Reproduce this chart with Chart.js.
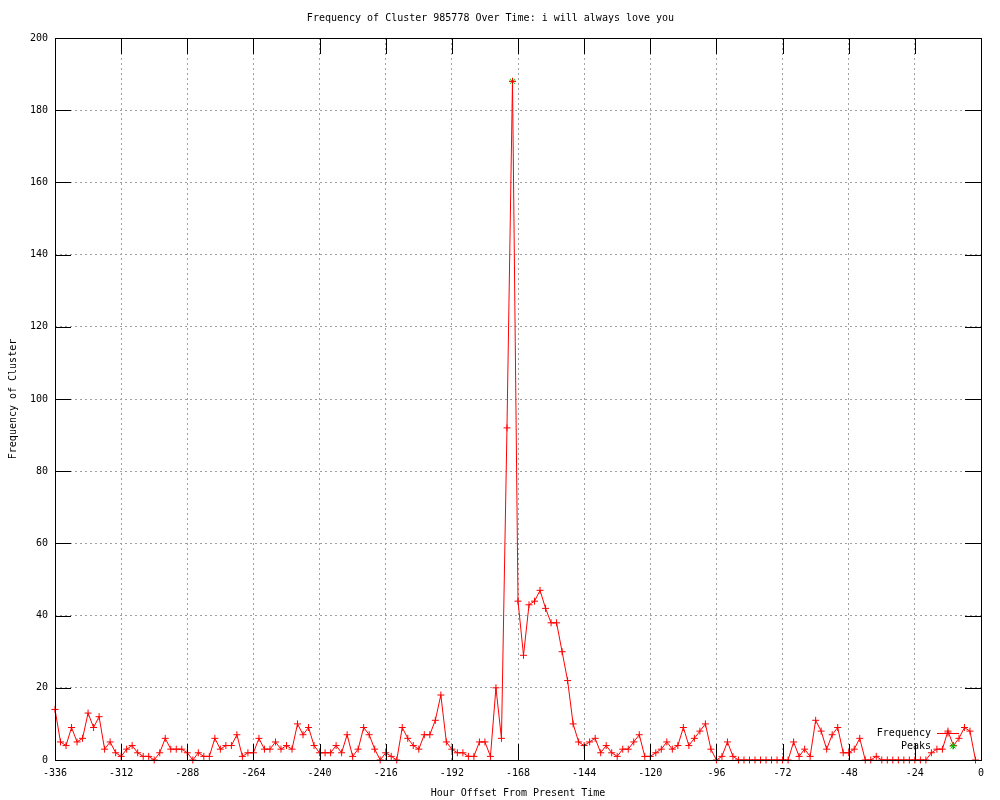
<!DOCTYPE html>
<html>
<head>
<meta charset="utf-8">
<title>Frequency of Cluster 985778</title>
<script src="https://cdn.jsdelivr.net/npm/chart.js@4.4.1/dist/chart.umd.min.js"></script>
<style>
  html, body { margin: 0; padding: 0; background: #fff; }
  #wrap { width: 1000px; height: 800px; }
</style>
</head>
<body>
<div id="wrap"><canvas id="freqChart" width="1000" height="800"></canvas></div>
<script>
// hour offsets, one point every 2 hours
const hours = [
  -336, -334, -332, -330, -328, -326, -324, -322, -320, -318,
  -316, -314, -312, -310, -308, -306, -304, -302, -300, -298,
  -296, -294, -292, -290, -288, -286, -284, -282, -280, -278,
  -276, -274, -272, -270, -268, -266, -264, -262, -260, -258,
  -256, -254, -252, -250, -248, -246, -244, -242, -240, -238,
  -236, -234, -232, -230, -228, -226, -224, -222, -220, -218,
  -216, -214, -212, -210, -208, -206, -204, -202, -200, -198,
  -196, -194, -192, -190, -188, -186, -184, -182, -180, -178,
  -176, -174, -172, -170, -168, -166, -164, -162, -160, -158,
  -156, -154, -152, -150, -148, -146, -144, -142, -140, -138,
  -136, -134, -132, -130, -128, -126, -124, -122, -120, -118,
  -116, -114, -112, -110, -108, -106, -104, -102, -100, -98,
  -96, -94, -92, -90, -88, -86, -84, -82, -80, -78,
  -76, -74, -72, -70, -68, -66, -64, -62, -60, -58,
  -56, -54, -52, -50, -48, -46, -44, -42, -40, -38,
  -36, -34, -32, -30, -28, -26, -24, -22, -20, -18,
  -16, -14, -12, -10, -8, -6, -4, -2
];

const frequency = [
  14, 5, 4, 9, 5, 6, 13, 9, 12, 3,
  5, 2, 1, 3, 4, 2, 1, 1, 0, 2,
  6, 3, 3, 3, 2, 0, 2, 1, 1, 6,
  3, 4, 4, 7, 1, 2, 2, 6, 3, 3,
  5, 3, 4, 3, 10, 7, 9, 4, 2, 2,
  2, 4, 2, 7, 1, 3, 9, 7, 3, 0,
  2, 1, 0, 9, 6, 4, 3, 7, 7, 11,
  18, 5, 3, 2, 2, 1, 1, 5, 5, 1,
  20, 6, 92, 188, 44, 29, 43, 44, 47, 42,
  38, 38, 30, 22, 10, 5, 4, 5, 6, 2,
  4, 2, 1, 3, 3, 5, 7, 1, 1, 2,
  3, 5, 3, 4, 9, 4, 6, 8, 10, 3,
  0, 1, 5, 1, 0, 0, 0, 0, 0, 0,
  0, 0, 0, 0, 5, 1, 3, 1, 11, 8,
  3, 7, 9, 2, 2, 3, 6, 0, 0, 1,
  0, 0, 0, 0, 0, 0, 0, 0, 0, 2,
  3, 3, 8, 4, 6, 9, 8, 0
];

const peakHours = [-170];
const peakValues = [188];

const xTicks = [-336, -312, -288, -264, -240, -216, -192, -168, -144, -120, -96, -72, -48, -24, 0];
const yTicks = [0, 20, 40, 60, 80, 100, 120, 140, 160, 180, 200];

const FONT = { family: "'DejaVu Sans Mono', 'Liberation Mono', monospace", size: 10, weight: 'normal' };
const TICK = 16;

// gnuplot style frame: border, inward ticks on all four sides, key
const framePlugin = {
    id: 'frame',
    afterDatasetsDraw(chart) {
        const { ctx, chartArea: a, scales: { x, y } } = chart;
        ctx.save();
        ctx.strokeStyle = '#000';
        ctx.lineWidth = 1;
        ctx.beginPath();
        xTicks.forEach(v => {
            const px = Math.round(x.getPixelForValue(v)) + 0.5;
            ctx.moveTo(px, a.bottom); ctx.lineTo(px, a.bottom - TICK);
            ctx.moveTo(px, a.top); ctx.lineTo(px, a.top + TICK);
        });
        yTicks.forEach(v => {
            const py = Math.round(y.getPixelForValue(v)) + 0.5;
            ctx.moveTo(a.left, py); ctx.lineTo(a.left + TICK, py);
            ctx.moveTo(a.right, py); ctx.lineTo(a.right - TICK, py);
        });
        ctx.stroke();
        ctx.strokeRect(Math.round(a.left) + 0.5, Math.round(a.top) + 0.5,
            Math.round(a.right - a.left), Math.round(a.bottom - a.top));

        // key
        ctx.font = `${FONT.size}px ${FONT.family}`;
        ctx.fillStyle = '#000';
        ctx.textAlign = 'right';
        ctx.textBaseline = 'middle';
        const kx = a.right - 50, ky = a.bottom - 27;
        ctx.fillText('Frequency', kx, ky);
        ctx.fillText('Peaks', kx, ky + 13);
        ctx.strokeStyle = 'red';
        ctx.beginPath();
        ctx.moveTo(kx + 6, ky + 0.5); ctx.lineTo(kx + 28, ky + 0.5);
        ctx.stroke();
        Chart.helpers.drawPoint(ctx, { pointStyle: 'cross', radius: 3.5, borderWidth: 1 }, kx + 17, ky);
        ctx.strokeStyle = '#00c000';
        Chart.helpers.drawPoint(ctx, { pointStyle: 'star', radius: 3.5, borderWidth: 1 }, kx + 22, ky + 13);
        ctx.restore();
    }
};

new Chart(document.getElementById('freqChart'), {
    type: 'line',
    data: {
        datasets: [
            {
                label: 'Frequency',
                data: hours.map((h, i) => ({ x: h, y: frequency[i] })),
                borderColor: 'red',
                borderWidth: 1,
                pointStyle: 'cross',
                pointRadius: 3.5,
                pointBorderColor: 'red',
                pointBorderWidth: 1,
                tension: 0,
                clip: false,
                order: 0,
            },
            {
                label: 'Peaks',
                data: peakHours.map((h, i) => ({ x: h, y: peakValues[i] })),
                showLine: false,
                pointStyle: 'star',
                pointRadius: 3.5,
                pointBorderColor: '#00c000',
                pointBorderWidth: 1,
                clip: false,
                order: 1,
            },
        ],
    },
    options: {
        responsive: false,
        animation: false,
        devicePixelRatio: 1,
        layout: { padding: { left: 0, right: 19, top: 0, bottom: 0 } },
        plugins: {
            legend: { display: false },
            tooltip: { enabled: false },
            title: {
                display: true,
                text: 'Frequency of Cluster 985778 Over Time: i will always love you',
                color: '#000',
                font: FONT,
                padding: { top: 12, bottom: 14 },
            },
        },
        scales: {
            x: {
                type: 'linear',
                min: -336,
                max: 0,
                afterBuildTicks: s => { s.ticks = xTicks.map(v => ({ value: v })); },
                afterFit: s => { s.height = 40; },
                ticks: { color: '#000', font: FONT, padding: 7, maxRotation: 0, autoSkip: false },
                grid: { color: '#a0a0a0', drawTicks: false },
                border: { display: false, dash: [2, 3] },
                title: {
                    display: true,
                    text: 'Hour Offset From Present Time',
                    color: '#000',
                    font: FONT,
                    padding: { top: 0, bottom: 1 },
                },
            },
            y: {
                min: 0,
                max: 200,
                afterBuildTicks: s => { s.ticks = yTicks.map(v => ({ value: v })); },
                afterFit: s => { s.width = 55; },
                ticks: { color: '#000', font: FONT, padding: 7 },
                grid: { color: '#a0a0a0', drawTicks: false },
                border: { display: false, dash: [2, 3] },
                title: {
                    display: true,
                    text: 'Frequency of Cluster',
                    color: '#000',
                    font: FONT,
                    padding: { top: 7, bottom: 0 },
                },
            },
        },
    },
    plugins: [framePlugin],
});
</script>
</body>
</html>
